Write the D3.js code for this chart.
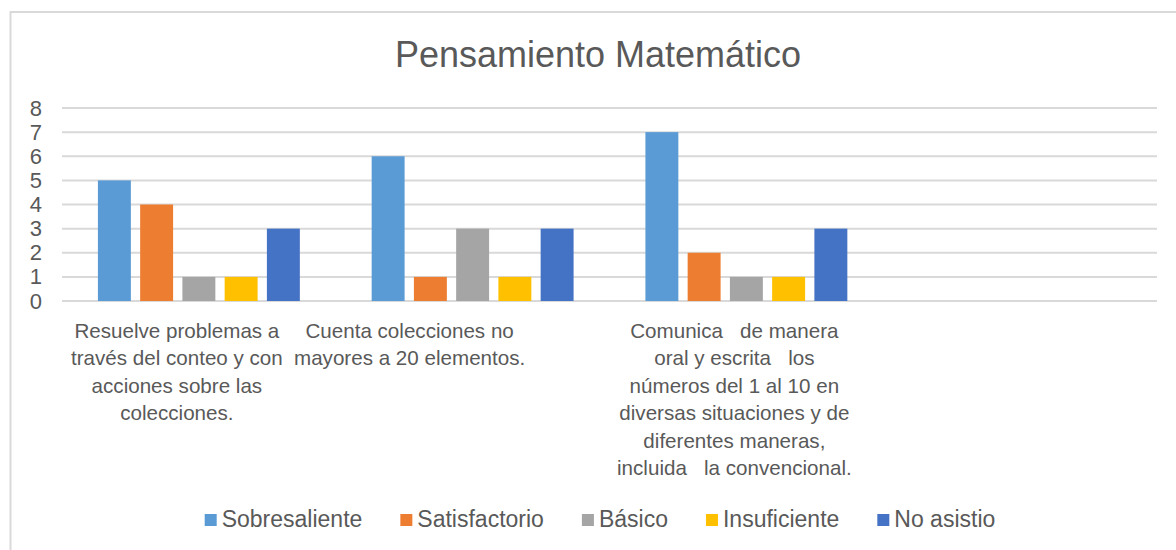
<!DOCTYPE html>
<html>
<head>
<meta charset="utf-8">
<script src="https://cdn.jsdelivr.net/npm/d3@7"></script>
<style>
  body { margin: 0; background: #fff; }
  svg { font-family: "Liberation Sans", Arial, sans-serif; }
</style>
</head>
<body>
<div id="chart"></div>
<script>
var categories = ['c1', 'c2', 'c3', 'c4']
var categoryLines = [
  ['Resuelve problemas a', 'través del conteo y con', 'acciones sobre las', 'colecciones.'],
  ['Cuenta colecciones no', 'mayores a 20 elementos.'],
  ['Comunica   de manera', 'oral y escrita   los', 'números del 1 al 10 en', 'diversas situaciones y de', 'diferentes maneras,', 'incluida   la convencional.'],
  []
]
var seriesNames = ['Sobresaliente', 'Satisfactorio', 'Básico', 'Insuficiente', 'No asistio']
var sobresaliente = [5, 6, 7, null]
var satisfactorio = [4, 1, 2, null]
var basico = [1, 3, 1, null]
var insuficiente = [1, 1, 1, null]
var noAsistio = [3, 3, 3, null]
var yTicks = [0, 1, 2, 3, 4, 5, 6, 7, 8]
var colors = ['#5B9BD5', '#ED7D31', '#A5A5A5', '#FFC000', '#4472C4']

var seriesValues = [sobresaliente, satisfactorio, basico, insuficiente, noAsistio]

var W = 1176
var H = 550
var textColor = '#595959'
var gridColor = '#d9d9d9'

var svg = d3.select('#chart').append('svg')
  .attr('width', W)
  .attr('height', H)

// chart border (cut off on the right and bottom)
svg.append('rect')
  .attr('x', 10.5).attr('y', 12)
  .attr('width', 1300).attr('height', 700)
  .attr('fill', 'none')
  .attr('stroke', gridColor)
  .attr('stroke-width', 2)

svg.append('text')
  .attr('x', 598).attr('y', 67)
  .attr('text-anchor', 'middle')
  .attr('fill', textColor)
  .style('font-size', '36px')
  .text('Pensamiento Matemático')

var x0 = d3.scaleBand().domain(categories).range([62, 1157]).padding(0)
var x1 = d3.scaleBand().domain(seriesNames).range([0, x0.bandwidth()])
  .paddingInner(0.22).paddingOuter(0.85)
var y = d3.scaleLinear().domain([0, 8]).range([301, 108])

// gridlines
svg.append('g').selectAll('line').data(yTicks).join('line')
  .attr('x1', 62).attr('x2', 1157)
  .attr('y1', d => y(d)).attr('y2', d => y(d))
  .attr('stroke', gridColor)
  .attr('stroke-width', 2)

// y axis labels
var yAxis = d3.axisLeft(y).tickValues(yTicks).tickSize(0).tickPadding(0)
var gy = svg.append('g').attr('transform', 'translate(42,0)').call(yAxis)
gy.select('.domain').remove()
gy.selectAll('text')
  .attr('fill', textColor)
  .style('font-size', '22px')
  .style('font-family', '"Liberation Sans", Arial, sans-serif')

// bars
var rows = []
categories.forEach(function (c, ci) {
  seriesNames.forEach(function (s, si) {
    if (seriesValues[si][ci] != null) rows.push({ cat: c, s: s, v: seriesValues[si][ci], i: si })
  })
})
svg.append('g').selectAll('rect').data(rows).join('rect')
  .attr('x', d => x0(d.cat) + x1(d.s))
  .attr('width', x1.bandwidth())
  .attr('y', d => y(d.v))
  .attr('height', d => y(0) - y(d.v))
  .attr('fill', d => colors[d.i])

// category labels (Excel places them a bit left of the band centre)
var labelShift = [-22, -63, -12, 0]
var lineH = 27.4
var gl = svg.append('g')
categories.forEach(function (c, ci) {
  var cx = x0(c) + x0.bandwidth() / 2 + labelShift[ci]
  var t = gl.append('text')
    .attr('text-anchor', 'middle')
    .attr('fill', textColor)
    .attr('xml:space', 'preserve')
    .style('white-space', 'pre')
    .style('font-size', '20.6px')
  categoryLines[ci].forEach(function (line, li) {
    t.append('tspan').attr('x', cx).attr('y', 338 + li * lineH).text(line)
  })
})

// legend
var leg = svg.append('g')
var items = leg.selectAll('g').data(seriesNames).join('g')
items.append('rect')
  .attr('width', 12).attr('height', 12)
  .attr('y', -13)
  .attr('fill', (d, i) => colors[i])
items.append('text')
  .attr('x', 17)
  .attr('fill', textColor)
  .style('font-size', '23px')
  .text(d => d)
var pos = 0
items.each(function () {
  var w = 17 + d3.select(this).select('text').node().getComputedTextLength()
  d3.select(this).attr('data-x', pos)
  pos += w + 38
})
var total = pos - 38
var startX = 600 - total / 2
items.attr('transform', function () {
  return 'translate(' + (startX + (+d3.select(this).attr('data-x'))) + ',527)'
})
</script>
</body>
</html>
